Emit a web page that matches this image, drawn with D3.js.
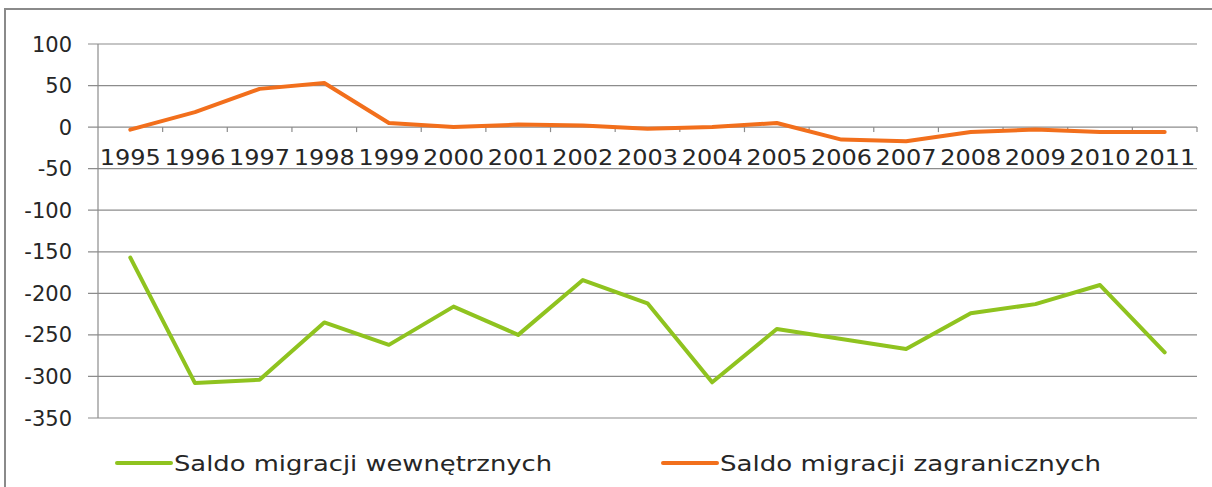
<!DOCTYPE html>
<html>
<head>
<meta charset="utf-8">
<script src="https://cdn.jsdelivr.net/npm/d3@7"></script>
<style>
  body { margin: 0; background: #fff; }
  text { font-family: "DejaVu Sans", sans-serif; fill: #262626; }
</style>
</head>
<body>
<div id="chart"></div>
<script>
const years = ["1995", "1996", "1997", "1998", "1999", "2000", "2001", "2002", "2003",
  "2004", "2005", "2006", "2007", "2008", "2009", "2010", "2011"];
const wewnetrzne = [-157, -308, -304, -235, -262, -216, -250, -184, -212,
  -307, -243, -255, -267, -224, -213, -190, -271];
const zagraniczne = [-3, 18, 46, 53, 5, 0, 3, 2, -2, 0, 5, -15, -17, -6, -3, -6, -6];
const yTicks = [100, 50, 0, -50, -100, -150, -200, -250, -300, -350];
const seriesNames = ["Saldo migracji wewnętrznych", "Saldo migracji zagranicznych"];
const seriesColors = ["#8fc31f", "#f26f1c"];

const width = 1212;
const height = 487;
const plot = { left: 98, right: 1197, top: 44, bottom: 418 };

const svg = d3.select("#chart").append("svg")
  .attr("width", width)
  .attr("height", height);

// outer frame
svg.append("rect")
  .attr("x", 5).attr("y", 9)
  .attr("width", 1215).attr("height", 500)
  .attr("fill", "none")
  .attr("stroke", "#8a8a8a")
  .attr("stroke-width", 2);

const x = d3.scaleBand().domain(years).range([plot.left, plot.right]);
const y = d3.scaleLinear().domain([-350, 100]).range([plot.bottom, plot.top]);

// gridlines
svg.append("g")
  .selectAll("line")
  .data(yTicks)
  .join("line")
  .attr("x1", plot.left - 10)
  .attr("x2", plot.right)
  .attr("y1", d => y(d))
  .attr("y2", d => y(d))
  .attr("stroke", "#8c8c8c")
  .attr("stroke-width", 1.2);

// y axis line
svg.append("line")
  .attr("x1", plot.left).attr("x2", plot.left)
  .attr("y1", plot.top).attr("y2", plot.bottom)
  .attr("stroke", "#8c8c8c")
  .attr("stroke-width", 1.2);

// y labels
svg.append("g")
  .selectAll("text")
  .data(yTicks)
  .join("text")
  .attr("x", 72)
  .attr("y", d => y(d))
  .attr("dy", "0.36em")
  .attr("text-anchor", "end")
  .attr("font-size", 21)
  .text(d => d);

// x axis ticks at category boundaries
const boundaries = years.slice(1).map(d => x(d)).concat([plot.right]);
svg.append("g")
  .selectAll("line")
  .data(boundaries)
  .join("line")
  .attr("x1", d => d).attr("x2", d => d)
  .attr("y1", y(0)).attr("y2", y(0) + 5)
  .attr("stroke", "#8c8c8c")
  .attr("stroke-width", 1.2);

// x labels
svg.append("g")
  .selectAll("text")
  .data(years)
  .join("text")
  .attr("x", d => x(d) + x.bandwidth() / 2)
  .attr("y", y(0) + 38)
  .attr("text-anchor", "middle")
  .attr("font-size", 21)
  .attr("textLength", 61)
  .attr("lengthAdjust", "spacingAndGlyphs")
  .text(d => d);

const line = d3.line()
  .x((d, i) => x(years[i]) + x.bandwidth() / 2)
  .y(d => y(d));

[wewnetrzne, zagraniczne].forEach((vals, i) => {
  svg.append("path")
    .datum(vals)
    .attr("fill", "none")
    .attr("stroke", seriesColors[i])
    .attr("stroke-width", 4)
    .attr("stroke-linejoin", "round")
    .attr("stroke-linecap", "round")
    .attr("d", line);
});

// legend
const legendX = [117, 663];
const legendLen = [378, 381];
const legendY = 463;
const legend = svg.append("g")
  .selectAll("g")
  .data(seriesNames)
  .join("g")
  .attr("transform", (d, i) => `translate(${legendX[i]}, ${legendY})`);
legend.append("line")
  .attr("x1", 0).attr("x2", 54)
  .attr("stroke", (d, i) => seriesColors[i])
  .attr("stroke-width", 4)
  .attr("stroke-linecap", "round");
legend.append("text")
  .attr("x", 57)
  .attr("dy", "0.36em")
  .attr("font-size", 21)
  .attr("textLength", (d, i) => legendLen[i])
  .attr("lengthAdjust", "spacingAndGlyphs")
  .text(d => d);
</script>
</body>
</html>
